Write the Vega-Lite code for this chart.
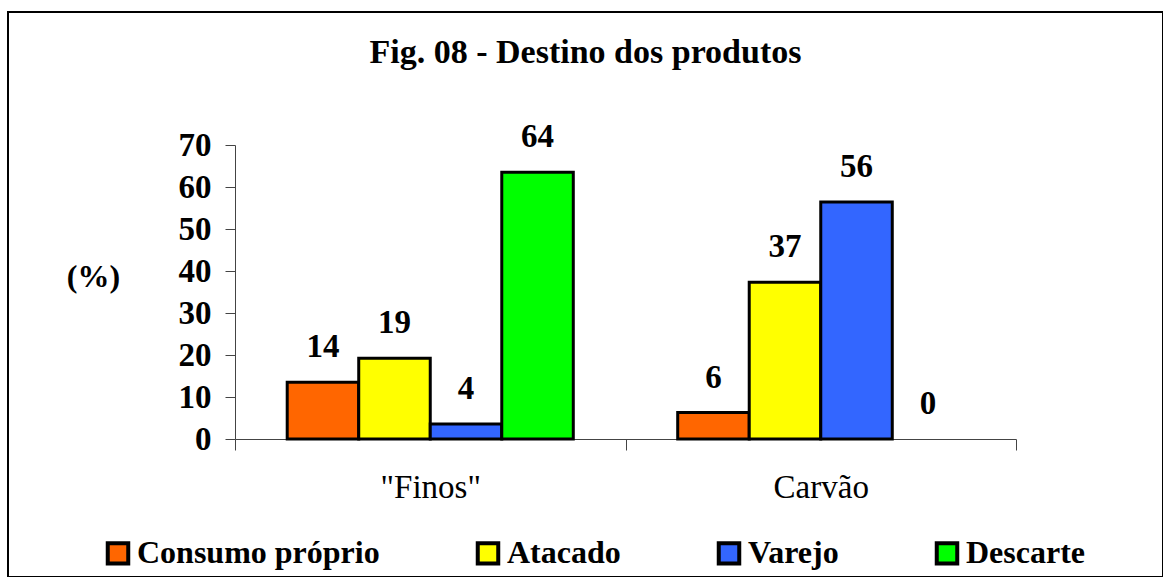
{
  "$schema": "https://vega.github.io/schema/vega-lite/v6.json",
  "autosize": {"type": "none"},
  "padding": {"left": 8, "top": 12, "right": 0, "bottom": 0},
  "width": 1155,
  "height": 565,
  "background": "white",
  "title": {
    "text": "Fig. 08 - Destino dos produtos",
    "font": "Liberation Serif",
    "fontSize": 34,
    "fontWeight": "bold",
    "color": "black",
    "anchor": "middle",
    "frame": "group",
    "offset": -58
  },
  "data": {
    "values": [
      {"produto": "\"Finos\"", "destino": "Consumo próprio", "valor": 13.5},
      {"produto": "\"Finos\"", "destino": "Atacado", "valor": 19.2},
      {"produto": "\"Finos\"", "destino": "Varejo", "valor": 3.6},
      {"produto": "\"Finos\"", "destino": "Descarte", "valor": 63.5},
      {"produto": "Carvão", "destino": "Consumo próprio", "valor": 6.3},
      {"produto": "Carvão", "destino": "Atacado", "valor": 37.3},
      {"produto": "Carvão", "destino": "Varejo", "valor": 56.4},
      {"produto": "Carvão", "destino": "Descarte", "valor": 0}
    ]
  },
  "encoding": {
    "x": {
      "field": "produto",
      "type": "nominal",
      "sort": ["\"Finos\"", "Carvão"],
      "scale": {"range": [227, 1008], "paddingInner": 0, "paddingOuter": 0},
      "axis": {
        "title": null,
        "offset": -138,
        "labelAngle": 0,
        "labelFont": "Liberation Serif, Times New Roman, serif",
        "labelFontSize": 33,
        "labelFontWeight": "normal",
        "labelColor": "black",
        "labelBaseline": "top",
        "labelPadding": 21,
        "tickBand": "extent",
        "tickSize": 11,
        "tickColor": "#444",
        "domainColor": "#444",
        "tickWidth": 1,
        "domainWidth": 1,
        "grid": false
      }
    },
    "xOffset": {
      "field": "destino",
      "type": "nominal",
      "sort": ["Consumo próprio", "Atacado", "Varejo", "Descarte"],
      "scale": {"paddingInner": 0, "paddingOuter": 0.73}
    },
    "y": {
      "field": "valor",
      "type": "quantitative",
      "scale": {"domain": [0, 70], "range": [427, 133], "nice": false, "zero": true},
      "axis": {
        "title": "(%)",
        "titleAngle": 0,
        "titleX": -142,
        "titleY": 264,
        "titleAlign": "center",
        "titleBaseline": "middle",
        "titleFont": "Liberation Serif",
        "titleFontSize": 32,
        "titleFontWeight": "bold",
        "titleColor": "black",
        "offset": -227,
        "values": [0, 10, 20, 30, 40, 50, 60, 70],
        "labelFont": "Liberation Serif",
        "labelFontSize": 33,
        "labelFontWeight": "bold",
        "labelColor": "black",
        "labelPadding": 14,
        "tickSize": 10,
        "tickColor": "#444",
        "domainColor": "#444",
        "grid": false
      }
    }
  },
  "layer": [
    {
      "mark": {"type": "bar", "stroke": "black", "strokeJoin": "miter"},
      "encoding": {
        "color": {
          "field": "destino",
          "type": "nominal",
          "scale": {
            "domain": ["Consumo próprio", "Atacado", "Varejo", "Descarte"],
            "range": ["#FF6600", "#FFFF00", "#3366FF", "#00FF00"]
          },
          "legend": {
            "title": null,
            "orient": "none",
            "legendX": 94,
            "legendY": 525,
            "direction": "horizontal",
            "columns": 4,
            "columnPadding": 89,
            "symbolType": "square",
            "symbolSize": 420,
            "symbolStrokeColor": "black",
            "symbolStrokeWidth": 4,
            "symbolOpacity": 1,
            "labelFont": "Liberation Serif",
            "labelFontSize": 32,
            "labelFontWeight": "bold",
            "labelColor": "black",
            "labelLimit": 400,
            "labelOffset": 3
          }
        },
        "strokeWidth": {
          "condition": {"test": "datum.valor === 0", "value": 0},
          "value": 3
        }
      }
    },
    {
      "mark": {
        "type": "text",
        "baseline": "alphabetic",
        "align": "center",
        "dy": -25,
        "font": "Liberation Serif",
        "fontSize": 33,
        "fontWeight": "bold",
        "color": "black"
      },
      "encoding": {
        "text": {"field": "valor", "type": "quantitative", "format": ".0f"}
      }
    }
  ],
  "config": {
    "view": {"stroke": "black", "strokeWidth": 2}
  }
}
